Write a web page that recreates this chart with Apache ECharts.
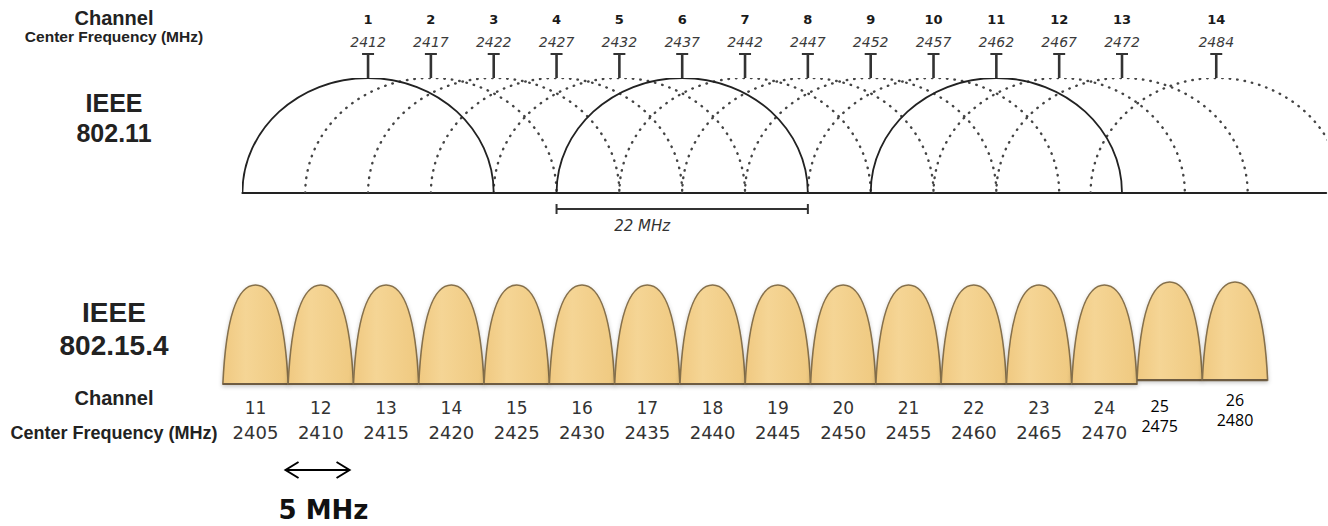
<!DOCTYPE html>
<html>
<head>
<meta charset="utf-8">
<script src="https://cdn.jsdelivr.net/npm/echarts@6/dist/echarts.min.js"></script>
<style>
  html, body { margin: 0; padding: 0; background: #fff; }
  #chart { width: 1328px; height: 526px; }
</style>
</head>
<body>
<div id="chart"></div>
<script>
'use strict';

// IEEE 802.11 (top)
const wifiChannels = [1, 2, 3, 4, 5, 6, 7, 8, 9, 10, 11, 12, 13, 14];
const wifiFreqs = [2412, 2417, 2422, 2427, 2432, 2437, 2442, 2447, 2452, 2457, 2462, 2467, 2472, 2484];
// where the drawing puts each channel, in channel steps (14 sits 1.5 steps after 13)
const wifiSlots = [1, 2, 3, 4, 5, 6, 7, 8, 9, 10, 11, 12, 13, 14.5];
const wifiSolid = [1, 6, 11];
const wifiSpan = 4;          // drawn width of one 22 MHz channel, in channel steps
const spanBar = [4, 8];      // the "22 MHz" bracket

// IEEE 802.15.4 (bottom)
const zbChannels = [11, 12, 13, 14, 15, 16, 17, 18, 19, 20, 21, 22, 23, 24, 25, 26];
const zbFreqs = [2405, 2410, 2415, 2420, 2425, 2430, 2435, 2440, 2445, 2450, 2455, 2460, 2465, 2470, 2475, 2480];
const zbBase = [0, 0, 0, 0, 0, 0, 0, 0, 0, 0, 0, 0, 0, 0, 0.04, 0.04];
const zbTop = [1, 1, 1, 1, 1, 1, 1, 1, 1, 1, 1, 1, 1, 1, 1.03, 1.03];
const zbStep = 5;
const arrowRange = [2407.3, 2412.2];

const BOLD = '"Liberation Sans", Arial, sans-serif';

var chart = echarts.init(document.getElementById('chart'), null, { renderer: 'svg' });

var wifiData = wifiChannels.map(function(c, i) {
    return [wifiSlots[i], c, wifiFreqs[i], wifiSolid.indexOf(c) >= 0 ? 1 : 0];
});
var zbData = zbChannels.map(function(c, i) {
    return [zbFreqs[i], zbBase[i], zbTop[i], c];
});

var ellipsePath = function(b0, b1, t) {
    var k = 0.5523,
        rx = (b1[0] - b0[0]) / 2,
        ry = b0[1] - t[1];
    return 'M' + b0[0] + ' ' + b0[1] +
        ' C' + b0[0] + ' ' + (b0[1] - k * ry) + ' ' + (t[0] - k * rx) + ' ' + t[1] + ' ' + t[0] + ' ' + t[1] +
        ' C' + (t[0] + k * rx) + ' ' + t[1] + ' ' + b1[0] + ' ' + (b1[1] - k * ry) + ' ' + b1[0] + ' ' + b1[1];
};

var arcRender = function(solid) {
    return function(params, api) {
        var s = api.value(0);
        if (api.value(3) !== solid) return null;
        var b0 = api.coord([s - wifiSpan / 2, 0]),
            b1 = api.coord([s + wifiSpan / 2, 0]),
            t = api.coord([s, 1]);
        return {
            type: 'path',
            shape: { pathData: ellipsePath(b0, b1, t) },
            style: solid ? {
                fill: 'none', stroke: '#222', lineWidth: 1.8
            } : {
                fill: 'none', stroke: '#444', lineWidth: 2.4, lineDash: [0.5, 7], lineCap: 'round'
            }
        };
    };
};

var wifiLabelRender = function(params, api) {
    var p = api.coord([api.value(0), 1]);
    return {
        type: 'group',
        children: [
            { type: 'line', shape: { x1: p[0], y1: p[1], x2: p[0], y2: p[1] - 24 }, style: { stroke: '#333', lineWidth: 2.6 } },
            { type: 'line', shape: { x1: p[0] - 6, y1: p[1] - 24, x2: p[0] + 6, y2: p[1] - 24 }, style: { stroke: '#333', lineWidth: 2 } },
            { type: 'text', style: { x: p[0], y: p[1] - 59, text: String(api.value(1)), font: 'bold 13px "DejaVu Sans", sans-serif', fill: '#1a1a1a', textAlign: 'center', textVerticalAlign: 'middle' } },
            { type: 'text', style: { x: p[0], y: p[1] - 36, text: String(api.value(2)), font: 'italic 14px "DejaVu Sans", sans-serif', fill: '#3a3a3a', textAlign: 'center', textVerticalAlign: 'middle' } }
        ]
    };
};

var spanRender = function(params, api) {
    var a = api.coord([api.value(0), 0]),
        b = api.coord([api.value(1), 0]),
        y = a[1] + 16;
    return {
        type: 'group',
        children: [
            { type: 'line', shape: { x1: a[0], y1: y, x2: b[0], y2: y }, style: { stroke: '#333', lineWidth: 2 } },
            { type: 'line', shape: { x1: a[0], y1: y - 5, x2: a[0], y2: y + 5 }, style: { stroke: '#333', lineWidth: 2 } },
            { type: 'line', shape: { x1: b[0], y1: y - 5, x2: b[0], y2: y + 5 }, style: { stroke: '#333', lineWidth: 2 } },
            { type: 'text', style: { x: (a[0] + b[0]) / 2 - 40, y: y + 17, text: '22 MHz', font: 'italic 15px "DejaVu Sans", sans-serif', fill: '#333', textAlign: 'center', textVerticalAlign: 'middle' } }
        ]
    };
};

var bumpRender = function(params, api) {
    var f = api.value(0),
        b0 = api.coord([f - zbStep / 2, api.value(1)]),
        b1 = api.coord([f + zbStep / 2, api.value(1)]),
        t = api.coord([f, api.value(2)]),
        w = b1[0] - b0[0],
        h = b0[1] - t[1];
    var d = 'M' + b0[0] + ' ' + b0[1] +
        ' C' + (b0[0] + 0.05 * w) + ' ' + (b0[1] - 0.7 * h) + ' ' + (t[0] - 0.27 * w) + ' ' + t[1] + ' ' + t[0] + ' ' + t[1] +
        ' C' + (t[0] + 0.27 * w) + ' ' + t[1] + ' ' + (b1[0] - 0.05 * w) + ' ' + (b1[1] - 0.7 * h) + ' ' + b1[0] + ' ' + b1[1] + ' Z';
    return {
        type: 'group',
        children: [{
            type: 'path',
            shape: { pathData: d },
            style: {
                fill: new echarts.graphic.LinearGradient(0, 0, 1, 0, [
                    { offset: 0, color: '#F0C981' },
                    { offset: 0.35, color: '#F5D595' },
                    { offset: 1, color: '#EFC980' }
                ]),
                stroke: '#85704C',
                lineWidth: 1.6,
                shadowColor: 'rgba(0,0,0,0.22)',
                shadowBlur: 4,
                shadowOffsetY: 2
            }
        }, {
            type: 'line',
            shape: { x1: b0[0], y1: b0[1], x2: b1[0], y2: b1[1] },
            style: { stroke: '#6E5C42', lineWidth: 2.2 }
        }]
    };
};

var zbLabelRender = function(params, api) {
    var p = api.coord([api.value(0), 0]),
        ch = api.value(3);
    if (ch === 25 || ch === 26) {
        var up = ch === 26 ? -6 : 0,
            dx = ch === 25 ? -10 : 0;
        return {
            type: 'group',
            children: [
                { type: 'text', style: { x: p[0] + dx, y: p[1] + 22 + up, text: String(ch), font: '16px "Open Sans", sans-serif', fill: '#000', textAlign: 'center', textVerticalAlign: 'middle' } },
                { type: 'text', style: { x: p[0] + dx, y: p[1] + 42 + up, text: String(api.value(0)), font: '16px "Open Sans", sans-serif', fill: '#000', textAlign: 'center', textVerticalAlign: 'middle' } }
            ]
        };
    }
    return {
        type: 'group',
        children: [
            { type: 'text', style: { x: p[0], y: p[1] + 24, text: String(ch), font: '17px "DejaVu Sans", sans-serif', fill: '#333', textAlign: 'center', textVerticalAlign: 'middle' } },
            { type: 'text', style: { x: p[0], y: p[1] + 48, text: String(api.value(0)), font: '18px "DejaVu Sans", sans-serif', fill: '#333', textAlign: 'center', textVerticalAlign: 'middle' } }
        ]
    };
};

var arrowRender = function(params, api) {
    var a = api.coord([api.value(0), 0]),
        b = api.coord([api.value(1), 0]),
        y = a[1] + 86;
    return {
        type: 'group',
        children: [
            { type: 'line', shape: { x1: a[0], y1: y, x2: b[0], y2: y }, style: { stroke: '#000', lineWidth: 2 } },
            { type: 'polyline', shape: { points: [[a[0] + 13, y - 8], [a[0], y], [a[0] + 13, y + 8]] }, style: { fill: 'none', stroke: '#000', lineWidth: 2 } },
            { type: 'polyline', shape: { points: [[b[0] - 13, y - 8], [b[0], y], [b[0] - 13, y + 8]] }, style: { fill: 'none', stroke: '#000', lineWidth: 2 } },
            { type: 'text', style: { x: (a[0] + b[0]) / 2 + 6, y: y + 40, text: '5 MHz', font: 'bold 26px "DejaVu Sans", sans-serif', fill: '#111', textAlign: 'center', textVerticalAlign: 'middle' } }
        ]
    };
};

var leftText = function(text, y, font) {
    return {
        type: 'text', x: 114, y: y,
        style: { text: text, font: font, fill: '#222', textAlign: 'center', textVerticalAlign: 'middle' }
    };
};

var option = {
    backgroundColor: '#fff',
    animation: false,
    grid: [
        { left: 242.4, right: 1.8, top: 78, bottom: 333 },
        { left: 190.2, right: 27.7, top: 285, bottom: 142 }
    ],
    xAxis: [{
        type: 'value', gridIndex: 0, min: -1, max: 16.25,
        axisLine: { show: true, onZero: false, lineStyle: { color: '#222', width: 2 } },
        axisTick: { show: false }, axisLabel: { show: false }, splitLine: { show: false }
    }, {
        type: 'value', gridIndex: 1, min: 2400, max: 2485, show: false
    }],
    yAxis: [
        { type: 'value', gridIndex: 0, min: 0, max: 1, show: false },
        { type: 'value', gridIndex: 1, min: 0, max: 1, show: false }
    ],
    graphic: [
        leftText('Channel', 18, 'bold 20px ' + BOLD),
        leftText('Center Frequency (MHz)', 36, 'bold 15.5px ' + BOLD),
        leftText('IEEE', 103, 'bold 25px ' + BOLD),
        leftText('802.11', 133, 'bold 25px ' + BOLD),
        leftText('IEEE', 312, 'bold 28px ' + BOLD),
        leftText('802.15.4', 345, 'bold 28px ' + BOLD),
        leftText('Channel', 398, 'bold 20px ' + BOLD),
        leftText('Center Frequency (MHz)', 433, 'bold 18px ' + BOLD)
    ],
    series: [{
        type: 'custom', xAxisIndex: 0, yAxisIndex: 0, silent: true, clip: true,
        renderItem: arcRender(0), data: wifiData
    }, {
        type: 'custom', xAxisIndex: 0, yAxisIndex: 0, silent: true, clip: true,
        renderItem: arcRender(1), data: wifiData
    }, {
        type: 'custom', xAxisIndex: 0, yAxisIndex: 0, silent: true,
        renderItem: wifiLabelRender, data: wifiData
    }, {
        type: 'custom', xAxisIndex: 0, yAxisIndex: 0, silent: true,
        renderItem: spanRender, data: [spanBar]
    }, {
        type: 'custom', xAxisIndex: 1, yAxisIndex: 1, silent: true,
        renderItem: bumpRender, data: zbData
    }, {
        type: 'custom', xAxisIndex: 1, yAxisIndex: 1, silent: true,
        renderItem: zbLabelRender, data: zbData
    }, {
        type: 'custom', xAxisIndex: 1, yAxisIndex: 1, silent: true,
        renderItem: arrowRender, data: [arrowRange]
    }]
};

chart.setOption(option);
</script>
</body>
</html>
